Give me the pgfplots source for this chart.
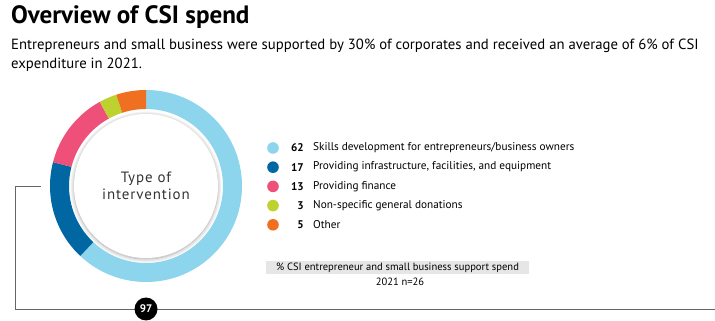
\documentclass[border=0pt]{standalone}
\usepackage{pgfplots}
\pgfplotsset{compat=1.18}
\usepackage{pgfplotstable}
\usepackage{fontspec}
\setmainfont{PT Sans}
\usetikzlibrary{shadows.blur}
\definecolor{skyc}{HTML}{8DD4ED}
\definecolor{navyc}{HTML}{0067A2}
\definecolor{pinkc}{HTML}{EE507A}
\definecolor{greenc}{HTML}{BDD12F}
\definecolor{orangec}{HTML}{F07022}
\definecolor{linec}{HTML}{666666}
\definecolor{capbg}{HTML}{E6E6E6}
\pgfplotstableread{
value color label
62 skyc {Skills development for entrepreneurs/business owners}
17 navyc {Providing infrastructure, facilities, and equipment}
13 pinkc {Providing finance}
3 greenc {Non-specific general donations}
5 orangec {Other}
}\donutdata
\begin{document}
\begin{tikzpicture}
\begin{axis}[
  width=715bp, height=321bp, scale only axis,
  xmin=0, xmax=715, ymin=0, ymax=321,
  hide axis, clip=false,
]
% connector lines
\draw[linec, line width=0.9pt] (axis cs:41,135) -- (axis cs:15,135) -- (axis cs:15,12) -- (axis cs:715,12);
% inner white circle with shadow
\fill[white, blur shadow={shadow blur steps=8, shadow xshift=0pt, shadow yshift=-1pt, shadow blur radius=4pt, shadow opacity=35}] (axis cs:146,135) circle[radius=72bp];
% donut
\pgfmathsetmacro\cum{0}
\pgfplotsforeachungrouped \i in {0,...,4}{%
  \pgfplotstablegetelem{\i}{value}\of\donutdata \let\v\pgfplotsretval
  \pgfplotstablegetelem{\i}{color}\of\donutdata \let\c\pgfplotsretval
  \pgfplotstablegetelem{\i}{label}\of\donutdata \let\lab\pgfplotsretval
  \pgfmathsetmacro\sa{90-3.6*\cum}%
  \pgfmathsetmacro\ea{90-3.6*(\cum+\v)}%
  \pgfmathsetmacro\ly{321-148-19.2*\i}%
  \pgfmathtruncatemacro\vi{\v}%
  \edef\cmd{%
    \noexpand\fill[\c] (axis cs:146,135) ++(\sa:96bp) arc[start angle=\sa,end angle=\ea,radius=96bp] -- ++(\ea:-19bp) arc[start angle=\ea,end angle=\sa,radius=77bp] -- cycle;
    \noexpand\fill[\c] (axis cs:273,\ly) circle[radius=5.8bp];
    \noexpand\node[anchor=east, inner sep=0pt, font=\noexpand\fontsize{11.2}{13}\noexpand\selectfont\noexpand\bfseries] at (axis cs:304,\ly) {\vi};
    \noexpand\node[anchor=west, inner sep=0pt, font=\noexpand\fontsize{11.3}{13}\noexpand\selectfont] at (axis cs:313,\ly) {\lab};
  }%
  \cmd
  \pgfmathsetmacro\cum{\cum+\v}%
}
% centre text
\node[align=center, font=\fontsize{15}{17.5}\selectfont, text=black!80] at (axis cs:146,135) {\addfontfeature{LetterSpace=6}Type of\\\addfontfeature{LetterSpace=6}intervention};
% title
\node[anchor=base west, inner sep=0pt, font=\fontsize{25.2}{28}\selectfont\bfseries] at (axis cs:11,297) {Overview of CSI spend};
\node[anchor=base west, inner sep=0pt, font=\fontsize{14.8}{19}\selectfont, align=left] at (axis cs:11,271) {Entrepreneurs and small business were supported by 30\% of corporates and received an average of 6\% of CSI};
\node[anchor=base west, inner sep=0pt, font=\fontsize{14.8}{19}\selectfont, align=left] at (axis cs:11,252) {expenditure in 2021.};
% caption
\fill[capbg] (axis cs:266,47) rectangle (axis cs:529,60);
\node[inner sep=0pt, font=\fontsize{10.6}{12}\selectfont] at (axis cs:397.5,53.5) {\% CSI entrepreneur and small business support spend};
\node[inner sep=0pt, font=\fontsize{10.6}{12}\selectfont] at (axis cs:400,39) {2021 n=26};
% page badge
\fill[black] (axis cs:146,12) circle[radius=11.5bp];
\node[text=white, inner sep=0pt, font=\fontsize{11}{12}\selectfont\bfseries] at (axis cs:146,12) {97};
\end{axis}
\pgfresetboundingbox
\path (current axis.south west) rectangle (current axis.north east);
\end{tikzpicture}
\end{document}
